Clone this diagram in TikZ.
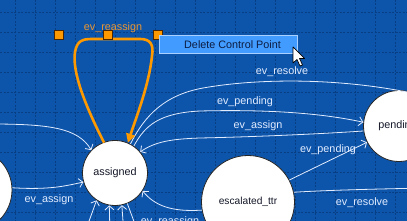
\documentclass[tikz,border=0pt]{standalone}
\usepackage{fontspec}
\setmainfont{Liberation Sans}
\usetikzlibrary{arrows.meta}
\definecolor{bgblue}{RGB}{13,85,170}
\definecolor{gridblue}{RGB}{8,62,132}
\definecolor{lblwhite}{RGB}{226,236,255}
\definecolor{orng}{RGB}{255,153,0}
\definecolor{orngtxt}{RGB}{235,150,50}
\definecolor{menublue}{RGB}{66,156,255}
\definecolor{menuedge}{RGB}{170,208,255}
\definecolor{menutxt}{RGB}{12,28,64}
\definecolor{nodetxt}{RGB}{20,24,40}
\tikzset{
  state/.style={circle, draw=black!85, fill=white, line width=0.8pt, inner sep=0pt, text=nodetxt, font=\fontsize{10.8}{12}\selectfont},
  conn/.style={draw=lblwhite, line width=0.8pt, -{Straight Barb[length=4pt,width=9pt]}},
  plain/.style={draw=lblwhite, line width=0.8pt},
  lbl/.style={text=lblwhite, font=\fontsize{10.8}{12}\selectfont, inner sep=0pt},
  ctrlpt/.style={draw=black!70!orange, fill=orng, line width=0.7pt, minimum size=9pt, inner sep=0pt},
}
\begin{document}
\begin{tikzpicture}[x=1pt,y=-1pt]
\useasboundingbox (0,0) rectangle (407,221);
\clip (0,0) rectangle (407,221);
\fill[bgblue] (0,0) rectangle (407,221);
% grid
\foreach \gx in {15,35,...,395} \draw[gridblue, line width=0.6pt, dash pattern=on 2pt off 1.5pt] (\gx,0) -- (\gx,221);
\foreach \gy in {12,32,...,212} \draw[gridblue, line width=0.6pt, dash pattern=on 2pt off 1.5pt] (0,\gy) -- (407,\gy);

% nodes
\node[state, minimum size=65pt] (assigned) at (115,173) {assigned};
\node[state, minimum size=71pt] (pending) at (399,126) {\hspace*{-3pt}pending};
\node[state, minimum size=93pt, font=\fontsize{10.2}{12}\selectfont] (esc) at (248,202) {escalated\_ttr};
\node[state, minimum size=84pt] (left) at (-30,190) {};

% off-screen coordinates
\coordinate (offL) at (-10,124);
\coordinate (offR) at (425,188);
\coordinate (offB1) at (84,235);
\coordinate (offB2) at (110,235);
\coordinate (offB3) at (124,235);
\coordinate (offB4) at (139,235);

% connectors
\draw[conn] (assigned.62) .. controls (145,115) and (165,95) .. (203,88)
  .. controls (260,78) and (340,78) .. (pending.65);
\draw[conn] (assigned.55) .. controls (145,125) and (160,113) .. (200,111)
  .. controls (280,109) and (330,115) .. (pending.174);
\draw[conn] (pending.188) .. controls (320,134) and (250,137) .. (200,138)
  .. controls (170,139) and (155,142) .. (assigned.40);
\draw[conn] (esc.28) -- (pending.207);
\draw[conn] (esc.12) .. controls (330,190) and (380,189) .. (offR);
\draw[conn] (esc.190) .. controls (172,212) and (155,206) .. (assigned.-33);
\draw[conn] (left.3) .. controls (50,190) and (65,186) .. (assigned.196);
\draw[conn] (offL) .. controls (50,124) and (78,128) .. (assigned.136);
\draw[conn] (offB1) -- (assigned.236);
\draw[conn] (offB2) -- (assigned.260);
\draw[conn] (offB3) -- (assigned.282);
\draw[conn] (assigned.292) -- (offB4);

% labels
\node[lbl] (lres1) at (282,72) {ev\_resolve};
\node[lbl] (lpen1) at (245,102) {ev\_pending};
\node[lbl] (lass1) at (258,126) {ev\_assign};
\node[lbl] (lpen2) at (328,150) {ev\_pending};
\node[lbl] (lres2) at (362,203) {ev\_resolve};
\node[lbl] (lass2) at (49,200) {ev\_assign};
\node[lbl] (lrea2) at (170,222) {ev\_reassign};

% orange self loop
\draw[orng, line width=2.6pt, line cap=round, -{Triangle[length=9pt,width=9pt]}]
  (assigned.110) .. controls (85,105) and (72,72) .. (75,52)
  .. controls (77,41) and (82,39) .. (92,39) -- (140,39)
  .. controls (150,39) and (154,44) .. (152,56)
  .. controls (149,85) and (136,118) .. (assigned.67);
\node[text=orngtxt, font=\fontsize{10.8}{12}\selectfont, inner sep=0pt] (lrea1) at (113,28) {ev\_reassign};
\node[ctrlpt] (cp1) at (59,35) {};
\node[ctrlpt] (cp2) at (108,35) {};
\node[ctrlpt] (cp3) at (158,35) {};

% context menu
\node[draw=menuedge, fill=menublue, line width=0.8pt, minimum width=138pt, minimum height=18pt, inner sep=0pt, anchor=north west] (menu) at (159,35) {};
\node[text=menutxt, font=\fontsize{10.8}{12}\selectfont, inner sep=0pt, anchor=west] (menutext) at (184,44.5) {Delete Control Point};

% mouse cursor
\draw[black, fill=white, line width=0.7pt, line join=round]
  (293,47) -- (293,63) -- (297,59.5) -- (300,66) -- (302.5,65) -- (299.5,58.5) -- (304.5,58.5) -- cycle;
\end{tikzpicture}
\end{document}
